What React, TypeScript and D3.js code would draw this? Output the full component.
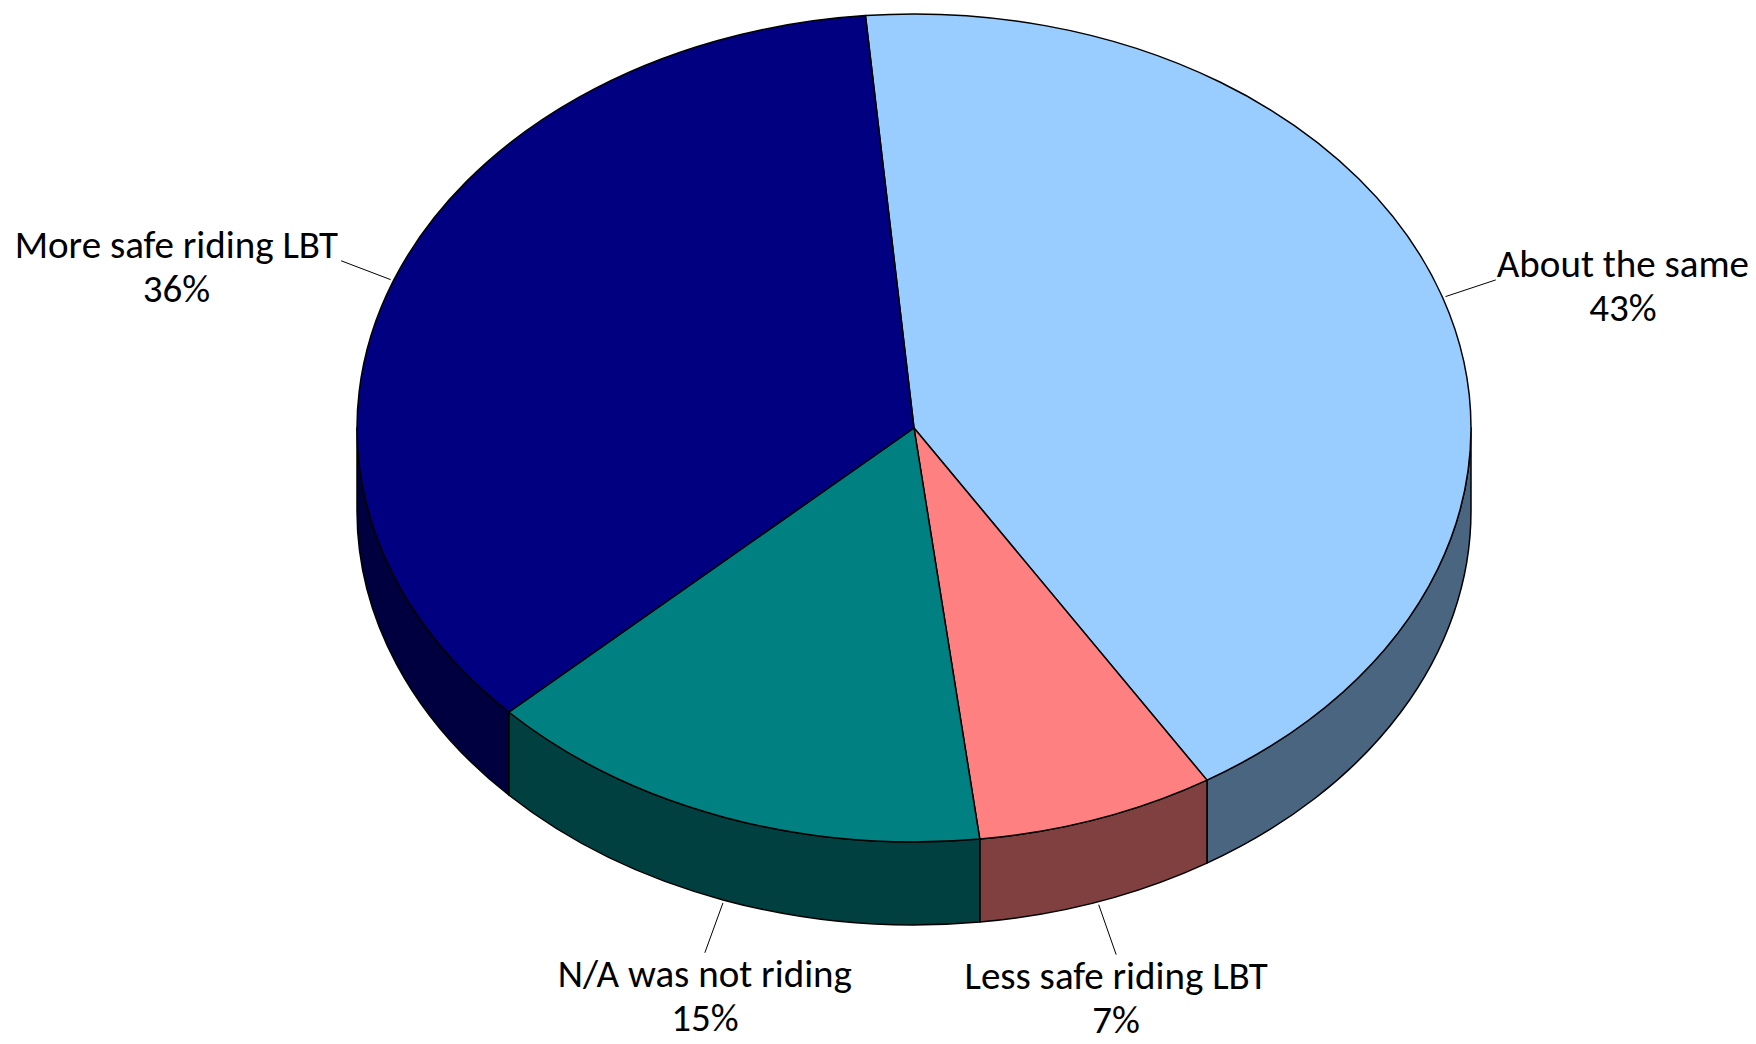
import React, { useRef, useEffect } from "react";
import * as d3 from "d3";

// survey answers, clockwise from the top
const categories = [
  "About the same",
  "Less safe riding LBT",
  "N/A was not riding",
  "More safe riding LBT",
];
const percents = [43, 7, 15, 36];
const percentLabels = ["43%", "7%", "15%", "36%"];

const topColors = ["#99CCFF", "#FF8080", "#008080", "#000080"];
const sideColors = ["#4A6580", "#804040", "#004040", "#000040"];

const width = 1756;
const height = 1044;

const cx = 914;
const cy = 428;
const rx = 557;
const ry = 414;
const depth = 83;
const startDeg = -5;
const leaderLen = 53;
const fontSize = 39;
const lineGap = 44;

const App = () => {
  const svgRef = useRef<SVGSVGElement>(null);

  const renderer = (svg: any) => {
    svg.selectAll("*").remove();
    const start = (startDeg * Math.PI) / 180;
    const pie = d3
      .pie<number>()
      .sort(null)
      .startAngle(start)
      .endAngle(start + 2 * Math.PI);
    const arcs = pie(percents);

    const pt = (a: number, dy = 0) => [
      cx + rx * Math.sin(a),
      cy - ry * Math.cos(a) + dy,
    ];

    const topPath = (a0: number, a1: number) => {
      const p0 = pt(a0);
      const p1 = pt(a1);
      const large = a1 - a0 > Math.PI ? 1 : 0;
      return `M${cx},${cy}L${p0[0]},${p0[1]}A${rx},${ry} 0 ${large} 1 ${p1[0]},${p1[1]}Z`;
    };

    const sidePath = (a0: number, a1: number) => {
      const p0 = pt(a0);
      const p1 = pt(a1);
      const q0 = pt(a0, depth);
      const q1 = pt(a1, depth);
      return (
        `M${p0[0]},${p0[1]}A${rx},${ry} 0 0 1 ${p1[0]},${p1[1]}` +
        `L${q1[0]},${q1[1]}A${rx},${ry} 0 0 0 ${q0[0]},${q0[1]}Z`
      );
    };

    // visible side walls (front half of the ellipse)
    const sides = arcs
      .map((d, i) => ({
        i,
        s0: Math.max(d.startAngle, Math.PI / 2),
        s1: Math.min(d.endAngle, (3 * Math.PI) / 2),
      }))
      .filter((d) => d.s1 > d.s0);

    svg
      .append("g")
      .selectAll("path")
      .data(sides)
      .join("path")
      .attr("d", (d: any) => sidePath(d.s0, d.s1))
      .attr("fill", (d: any) => sideColors[d.i])
      .attr("stroke", "#000")
      .attr("stroke-width", 1.5)
      .attr("stroke-linejoin", "round");

    svg
      .append("g")
      .selectAll("path")
      .data(arcs)
      .join("path")
      .attr("d", (d: any) => topPath(d.startAngle, d.endAngle))
      .attr("fill", (d: any, i: number) => topColors[i])
      .attr("stroke", "#000")
      .attr("stroke-width", 1.5)
      .attr("stroke-linejoin", "round");

    // leader lines + labels
    const labels = svg.append("g");
    arcs.forEach((d: any, i: number) => {
      const m = (d.startAngle + d.endAngle) / 2;
      const front = Math.cos(m) < 0;
      const dir = [Math.sin(m), -Math.cos(m)];
      const edge = pt(m, front ? depth : 0);
      const s = [edge[0] + dir[0] * 3, edge[1] + dir[1] * 3];
      const e = [s[0] + dir[0] * leaderLen, s[1] + dir[1] * leaderLen];

      labels
        .append("line")
        .attr("x1", s[0])
        .attr("y1", s[1])
        .attr("x2", e[0])
        .attr("y2", e[1])
        .attr("stroke", "#000")
        .attr("stroke-width", 1);

      const text = labels
        .append("text")
        .attr("font-family", "Carlito, Calibri, Lato, sans-serif")
        .attr("font-size", fontSize)
        .attr("fill", "#000")
        .attr("text-anchor", "middle");
      const l1 = text.append("tspan").text(categories[i]);
      const l2 = text.append("tspan").text(percentLabels[i]);
      const w = Math.max(
        (l1.node() as any).getComputedTextLength(),
        (l2.node() as any).getComputedTextLength()
      );

      let x = e[0];
      let y1 = e[1] + 34;
      if (Math.abs(dir[0]) > 0.7) {
        x = dir[0] > 0 ? e[0] + 1 + w / 2 : e[0] - 3 - w / 2;
        y1 = e[1] - 3;
      }
      l1.attr("x", x).attr("y", y1);
      l2.attr("x", x).attr("y", y1 + lineGap);
    });
  };

  useEffect(() => {
    if (svgRef.current) {
      renderer(d3.select(svgRef.current));
    }
  }, []);

  return (
    <svg
      width={width}
      height={height}
      ref={svgRef}
      style={{ position: "absolute", left: 0, top: 0, background: "#fff" }}
    />
  );
};

export default App;
